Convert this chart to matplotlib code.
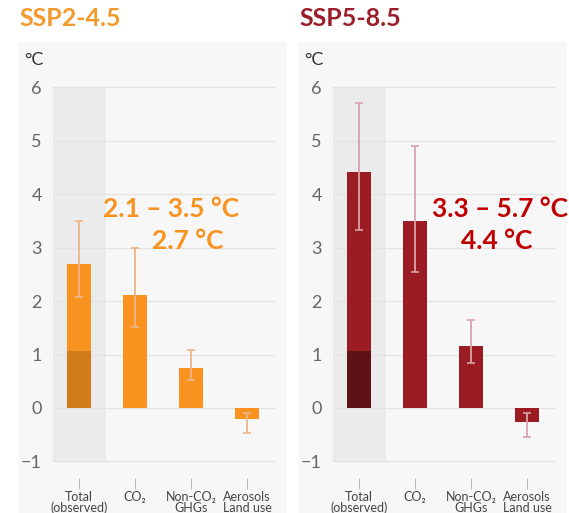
import matplotlib
matplotlib.use("Agg")
import matplotlib.pyplot as plt
from matplotlib.patches import Rectangle

plt.rcParams['font.family'] = ['Lato', 'DejaVu Sans']

categories = ["Total\n(observed)", "CO\u2082", "Non-CO\u2082\nGHGs", "Aerosols\nLand use"]
observed = 1.07

ssp245_values = [2.7, 2.12, 0.74, -0.21]
ssp245_low = [2.08, 1.52, 0.53, -0.47]
ssp245_high = [3.5, 3.0, 1.08, -0.1]

ssp585_values = [4.41, 3.5, 1.15, -0.27]
ssp585_low = [3.33, 2.54, 0.84, -0.54]
ssp585_high = [5.7, 4.9, 1.65, -0.1]

panels = [
    dict(title="SSP2-4.5", vals=ssp245_values, lo=ssp245_low, hi=ssp245_high,
         color="#f7931e", dark="#d27b19", err="#eab58a", title_color="#f39a2e",
         note=("2.1 \u2013 3.5 \u00b0C", "2.7 \u00b0C"), note_color="#f7931e",
         box=18, ax_left=53, note_x=(171, 188)),
    dict(title="SSP5-8.5", vals=ssp585_values, lo=ssp585_low, hi=ssp585_high,
         color="#9c1c24", dark="#5e1216", err="#d9a3aa", title_color="#9a1f2b",
         note=("3.3 \u2013 5.7 \u00b0C", "4.4 \u00b0C"), note_color="#c00000",
         box=298, ax_left=333, note_x=(500, 497)),
]

W, H = 569, 513
fig = plt.figure(figsize=(W / 100, H / 100), dpi=100)
fig.patch.set_facecolor("white")

x = list(range(len(categories)))
for p in panels:
    # panel background
    fig.patches.append(Rectangle((p["box"] / W, 0), 269 / W, 1 - 42 / H,
                                 transform=fig.transFigure, facecolor="#f7f7f7",
                                 edgecolor="none", zorder=-5))
    fig.text((p["box"] + 1) / W, 1 - 19 / H, p["title"], color=p["title_color"],
             fontsize=18, fontweight="bold", va="center", ha="left")
    fig.text((p["box"] + 6) / W, 1 - 60 / H, "\u00b0C", color="#333333",
             fontsize=13, va="center", ha="left")

    ax = fig.add_axes([p["ax_left"] / W, 1 - 477.5 / H, 222 / W, (477.5 - 85) / H])
    ax.set_facecolor("none")
    ax.set_xlim(-0.464, 3.5)
    ax.set_ylim(-1.3, 6.04)
    for s in ax.spines.values():
        s.set_visible(False)

    ax.add_patch(Rectangle((-0.464, -1), 0.944, 7, facecolor="#ebebeb",
                           edgecolor="none", zorder=0))
    for yv in range(-1, 7):
        ax.axhline(yv, color="#e3e3e3", lw=1, zorder=0.5)

    ax.bar(x, p["vals"], width=0.43, color=p["color"], zorder=2)
    ax.bar(0, observed, width=0.43, color=p["dark"], zorder=3)
    for xi, v, lo, hi in zip(x, p["vals"], p["lo"], p["hi"]):
        ax.errorbar(xi, v, yerr=[[v - lo], [hi - v]], fmt="none", ecolor=p["err"],
                    elinewidth=1.3, capsize=3, capthick=1.2, zorder=4)

    ax.set_yticks(range(-1, 7))
    ax.set_yticklabels(["\u22121"] + [str(i) for i in range(0, 7)])
    ax.tick_params(axis="y", length=0, pad=8, labelsize=13, labelcolor="#666666")
    ax.set_xticks(x)
    ax.set_xticklabels(categories, fontsize=9, color="#444444", linespacing=0.85)
    ax.tick_params(axis="x", length=8, width=0.8, color="#bbbbbb", pad=2)

    fig.text(p["note_x"][0] / W, 1 - 209 / H, p["note"][0], color=p["note_color"],
             fontsize=19, fontweight="bold", ha="center", va="center")
    fig.text(p["note_x"][1] / W, 1 - 241 / H, p["note"][1], color=p["note_color"],
             fontsize=19, fontweight="bold", ha="center", va="center")

fig.savefig("out.png", dpi=100)
